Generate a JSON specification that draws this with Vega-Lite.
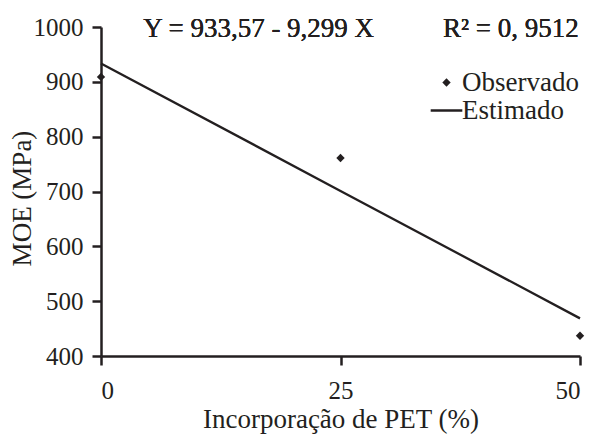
{
  "$schema": "https://vega.github.io/schema/vega-lite/v6.json",
  "width": 479,
  "height": 329,
  "autosize": {"type": "none"},
  "padding": {"left": 101, "top": 27, "right": 17, "bottom": 78},
  "background": "white",
  "data": {
    "values": [
      {"pet": 0, "moe": 909, "est": 933.57},
      {"pet": 25, "moe": 761, "est": 701.1},
      {"pet": 50, "moe": 437, "est": 468.62}
    ]
  },
  "layer": [
    {
      "mark": {"type": "line", "strokeWidth": 2.3},
      "encoding": {
        "x": {
          "field": "pet",
          "type": "quantitative",
          "title": "Incorporação de PET (%)",
          "scale": {"domain": [0, 50], "nice": false, "zero": false},
          "axis": {"values": [0, 25, 50], "labelPadding": 13, "titlePadding": 3}
        },
        "y": {
          "field": "est",
          "type": "quantitative",
          "title": "MOE (MPa)",
          "scale": {"domain": [400, 1000], "nice": false, "zero": false},
          "axis": {"values": [400, 500, 600, 700, 800, 900, 1000], "format": "d", "labelPadding": 9, "titlePadding": -3, "titleY": 171}
        },
        "color": {
          "datum": "Estimado",
          "scale": {"domain": ["Observado", "Estimado"], "range": ["#231f20", "#231f20"]},
          "legend": {
            "title": null,
            "orient": "none",
            "legendX": 332,
            "legendY": 42,
            "padding": 0,
            "rowPadding": 0,
            "labelOffset": 2,
            "symbolSize": 1156,
            "labelFont": "Liberation Serif",
            "labelFontSize": 27,
            "labelColor": "#231f20",
            "encode": {
              "symbols": {
                "update": {
                  "shape": {"signal": "datum.value === 'Observado' ? 'diamond' : 'stroke'"},
                  "size": {"signal": "datum.value === 'Observado' ? 70 : 1000"},
                  "fill": {"value": "#231f20"},
                  "stroke": {"value": "#231f20"},
                  "strokeWidth": {"signal": "datum.value === 'Observado' ? 0 : 2.3"},
                  "opacity": {"value": 1}
                }
              }
            }
          }
        }
      }
    },
    {
      "mark": {"type": "point", "shape": "diamond", "filled": true, "size": 70, "opacity": 1},
      "encoding": {
        "x": {"field": "pet", "type": "quantitative"},
        "y": {"field": "moe", "type": "quantitative"},
        "color": {"datum": "Observado"}
      }
    },
    {
      "mark": {"type": "text", "align": "left", "baseline": "middle", "font": "Liberation Serif", "fontSize": 27, "fill": "#231f20", "text": "Y = 933,57 - 9,299 X"},
      "encoding": {
        "x": {"datum": 4.4, "type": "quantitative"},
        "y": {"datum": 997, "type": "quantitative"}
      }
    },
    {
      "mark": {"type": "text", "align": "left", "baseline": "middle", "font": "Liberation Serif", "fontSize": 27, "fill": "#231f20", "text": "R² = 0, 9512"},
      "encoding": {
        "x": {"datum": 35.7, "type": "quantitative"},
        "y": {"datum": 997, "type": "quantitative"}
      }
    }
  ],
  "config": {
    "view": {"stroke": null},
    "axis": {
      "grid": false,
      "domainColor": "#231f20",
      "domainWidth": 2.5,
      "tickColor": "#231f20",
      "tickWidth": 2.5,
      "tickSize": 9,
      "labelFont": "Liberation Serif",
      "labelFontSize": 25,
      "labelColor": "#231f20",
      "titleFont": "Liberation Serif",
      "titleFontSize": 27,
      "titleFontWeight": "normal",
      "titleColor": "#231f20"
    }
  }
}
